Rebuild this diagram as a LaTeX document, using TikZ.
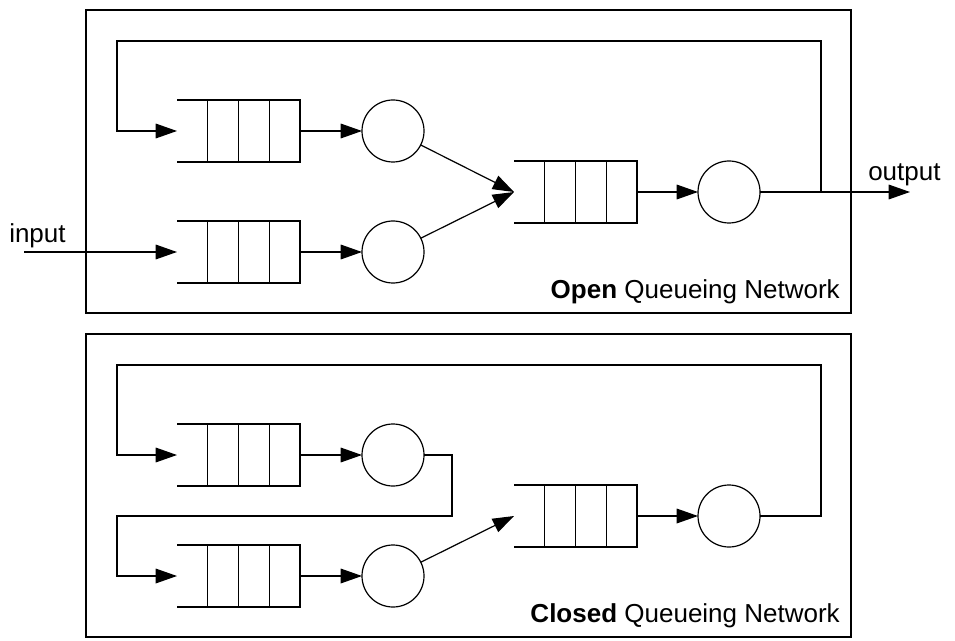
\documentclass[tikz,border=0pt]{standalone}
\usepackage{fontspec}
\setmainfont{Liberation Sans}
\usetikzlibrary{arrows.meta,calc}
\newcommand\qlines[1]{%
  \draw[ln] (#1.north west) -- (#1.north east) -- (#1.south east) -- (#1.south west);
  \foreach \f in {0.25,0.5,0.75}
    \draw[ln] ($(#1.north west)!\f!(#1.north east)$) -- ($(#1.south west)!\f!(#1.south east)$);}
\begin{document}
\begin{tikzpicture}[x=0.75pt,y=-0.75pt,
  ln/.style={line width=0.9pt},
  arr/.style={ln,-{Triangle[length=16pt,width=11pt]}},
  queue/.style={minimum width=92.25pt,minimum height=46.5pt,inner sep=0pt,outer sep=0pt},
  server/.style={circle,draw,ln,minimum size=46.5pt,inner sep=0pt,outer sep=0pt},
  frame/.style={draw,line width=1.1pt},
  lbl/.style={inner sep=0pt,font=\fontsize{19.5}{23}\selectfont}]
\useasboundingbox (0,0) rectangle (955,641);
% ---------- open network ----------
\node[frame,minimum width=573.75pt,minimum height=227.25pt,inner sep=0pt] (openbox) at (468.5,161.5) {};
\node[queue] (q1) at (238.5,131) {};
\node[queue] (q2) at (238.5,252) {};
\node[queue] (q3) at (575.5,192) {};
\qlines{q1}\qlines{q2}\qlines{q3}
\node[server] (c1) at (393,131) {};
\node[server] (c2) at (393,252) {};
\node[server] (c3) at (729,192) {};
\coordinate (inS) at (24,252);
\coordinate (split) at (821,192);
\coordinate (fbL) at (117,41);
\coordinate (outE) at (910,192);
\draw[arr] (q1.east) -- (c1);
\draw[arr] (q2.east) -- (c2);
\draw[arr] (q3.east) -- (c3);
\draw[arr] (c1) -- (q3.west);
\draw[arr] (c2) -- (q3.west);
\draw[arr] (inS) -- (q2.west);
\draw[arr] (c3.east) -- (outE);
\draw[arr] (split) |- (fbL) |- (q1.west);
\node[lbl,anchor=base west] (inlbl) at (9,243) {input};
\node[lbl,anchor=base west] (outlbl) at (868,181) {output};
\node[lbl,anchor=base east] (opent) at (840,298) {\textbf{Open} Queueing Network};
% ---------- closed network ----------
\node[frame,minimum width=573.75pt,minimum height=227.25pt,inner sep=0pt] (closedbox) at (468.5,485.5) {};
\node[queue] (q4) at (238.5,455) {};
\node[queue] (q5) at (238.5,576) {};
\node[queue] (q6) at (575.5,516) {};
\qlines{q4}\qlines{q5}\qlines{q6}
\node[server] (c4) at (393,455) {};
\node[server] (c5) at (393,576) {};
\node[server] (c6) at (729,516) {};
\coordinate (j1) at (452,516);
\coordinate (j2) at (117,516);
\coordinate (fb2R) at (821,365);
\coordinate (fb2L) at (117,365);
\draw[arr] (q4.east) -- (c4);
\draw[arr] (q5.east) -- (c5);
\draw[arr] (q6.east) -- (c6);
\draw[arr] (c5) -- (q6.west);
\draw[arr] (c4.east) -| (j1) -- (j2) |- (q5.west);
\draw[arr] (c6.east) -| (fb2R) -- (fb2L) |- (q4.west);
\node[lbl,anchor=base east] (closedt) at (840,622) {\textbf{Closed} Queueing Network};
\end{tikzpicture}
\end{document}
